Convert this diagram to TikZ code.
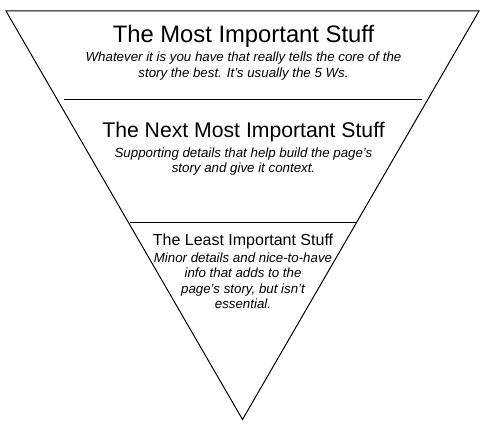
\documentclass[tikz,border=0pt]{standalone}
\usepackage{fontspec}
\setmainfont{Liberation Sans}
\usepackage{tikz}

\begin{document}
\begin{tikzpicture}[x=1pt, y=-1pt, line width=1pt,
        head/.style={anchor=base, inner sep=0pt},
        blurb/.style={anchor=base, inner sep=0pt, align=center,
                      font=\fontsize{13.3}{15.5}\selectfont\itshape}]
        \useasboundingbox (0, 0) rectangle (490, 433);

        % the funnel
        \coordinate(tl) at (6, 11);
        \coordinate(tr) at (479, 11);
        \coordinate(apex) at (242.5, 419.5);
        \coordinate(d1l) at (64, 100);
        \coordinate(d1r) at (422, 100);
        \coordinate(d2l) at (130, 222);
        \coordinate(d2r) at (357, 222);

        \draw (tl) -- (tr) -- (apex) -- cycle;
        \draw (d1l) -- (d1r);
        \draw (d2l) -- (d2r);

        % top tier (blurbs sit on the baseline of their last line)
        \node[head, font=\fontsize{23.8}{28}\selectfont](h1) at (243.5, 43) {The Most Important Stuff};
        \node[blurb](b1) at (243.5, 77.5) {Whatever it is you have that really tells the core of the\\
                                          story the best. It's usually the 5 Ws.};

        % middle tier
        \node[head, font=\fontsize{21.2}{25}\selectfont](h2) at (243.5, 138) {The Next Most Important Stuff};
        \node[blurb](b2) at (243.5, 172.5) {Supporting details that help build the page's\\
                                           story and give it context.};

        % bottom tier
        \node[head, font=\fontsize{16}{19}\selectfont](h3) at (243, 245) {The Least Important Stuff};
        \node[blurb](b3) at (243, 308.5) {Minor details and nice-to-have\\
                                         info that adds to the\\
                                         page's story, but isn't\\
                                         essential.};

      \end{tikzpicture}
\end{document}
